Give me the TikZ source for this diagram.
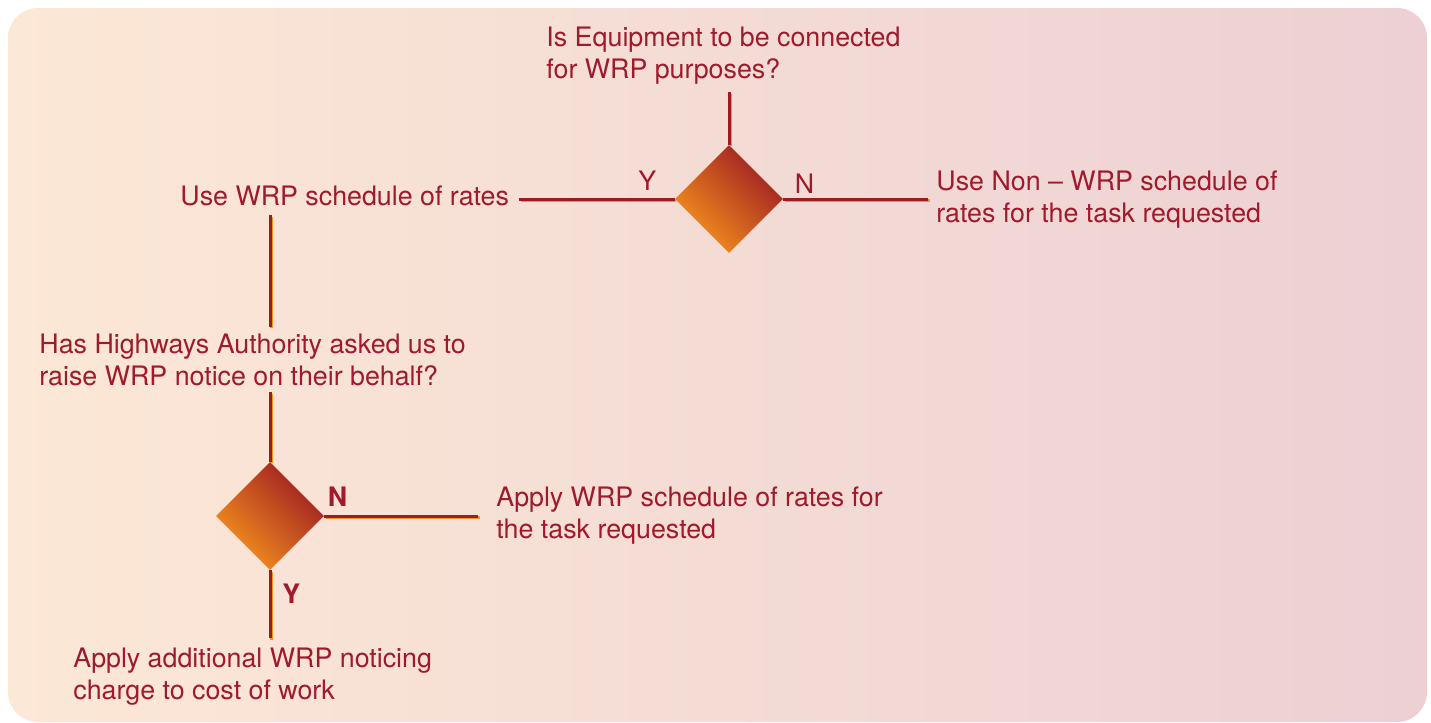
\documentclass[tikz,border=0pt]{standalone}
\usepackage{fontspec}
\setmainfont{TeX Gyre Heros}
\usetikzlibrary{shapes.geometric, positioning}
\definecolor{wred}{HTML}{9D1C22}
\definecolor{worange}{HTML}{F6921E}
\definecolor{wtext}{HTML}{A01A2B}
\definecolor{bgleft}{HTML}{FCE8D6}
\definecolor{bgright}{HTML}{ECD0D4}
\newcommand{\wrpfont}{\fontsize{13.4}{16}\selectfont}

\begin{document}
\begin{tikzpicture}[x=0.5pt,y=-0.5pt,font=\wrpfont]
\tikzstyle{txt}=[text=wtext,align=left,inner sep=0pt,anchor=west]
\tikzstyle{decision}=[diamond,minimum size=54pt,inner sep=0pt,top color=wred,bottom color=worange,shading angle=-45]
\tikzstyle{yn}=[text=wtext,inner sep=0pt]
\tikzstyle{wire}=[-,draw=wred,line width=1.5pt,preaction={draw=worange,line width=1.5pt,transform canvas={shift={(0.8pt,-0.8pt)}}}]

\useasboundingbox (0,0) rectangle (1431,723);
\shade[left color=bgleft,right color=bgright,rounded corners=15pt] (8,8) rectangle (1427,722);

\node[decision] (d1) at (729,199) {};
\node[decision] (d2) at (270,516) {};

\node[txt] (q0) at (546,56) {Is Equipment to be connected\\for WRP purposes?};
\node[txt] (r0) at (180,196) {Use WRP schedule of rates};
\node[txt] (r1) at (936,199.5) {Use Non -- WRP schedule of\\rates for the task requested};
\node[txt] (q1) at (39,360) {Has Highways Authority asked us to\\raise WRP notice on their behalf?};
\node[txt] (r2) at (496,516) {Apply WRP schedule of rates for\\the task requested};
\node[txt] (r3) at (73,676.5) {Apply additional WRP noticing\\charge to cost of work};

\node[yn, above left=4pt and 9pt of d1.west] (y1) {Y};
\node[yn, above right=2.5pt and 5.5pt of d1.east] (n1) {N};
\node[yn, font=\wrpfont\bfseries, above right=4.5pt and 1.5pt of d2.east] (n2) {N};
\node[yn, font=\wrpfont\bfseries, below right=6.5pt and 6pt of d2.south] (y2) {Y};

\path
  (d1.north |- q0.south) edge [wire, shorten <=3.5pt] (d1.north)
  (d1.west) edge [wire, shorten >=5pt] (d1.west -| r0.east)
  (d1.east) edge [wire, shorten >=4pt] (d1.east -| r1.west)
  (d2.north |- r0.south) edge [wire, shorten <=4.5pt, shorten >=3.5pt] (d2.north |- q1.north)
  (d2.north |- q1.south) edge [wire, shorten <=3pt] (d2.north)
  (d2.east) edge [wire, shorten >=9pt] (d2.east -| r2.west)
  (d2.south) edge [wire, shorten >=4.5pt] (d2.south |- r3.north);
\end{tikzpicture}
\end{document}
